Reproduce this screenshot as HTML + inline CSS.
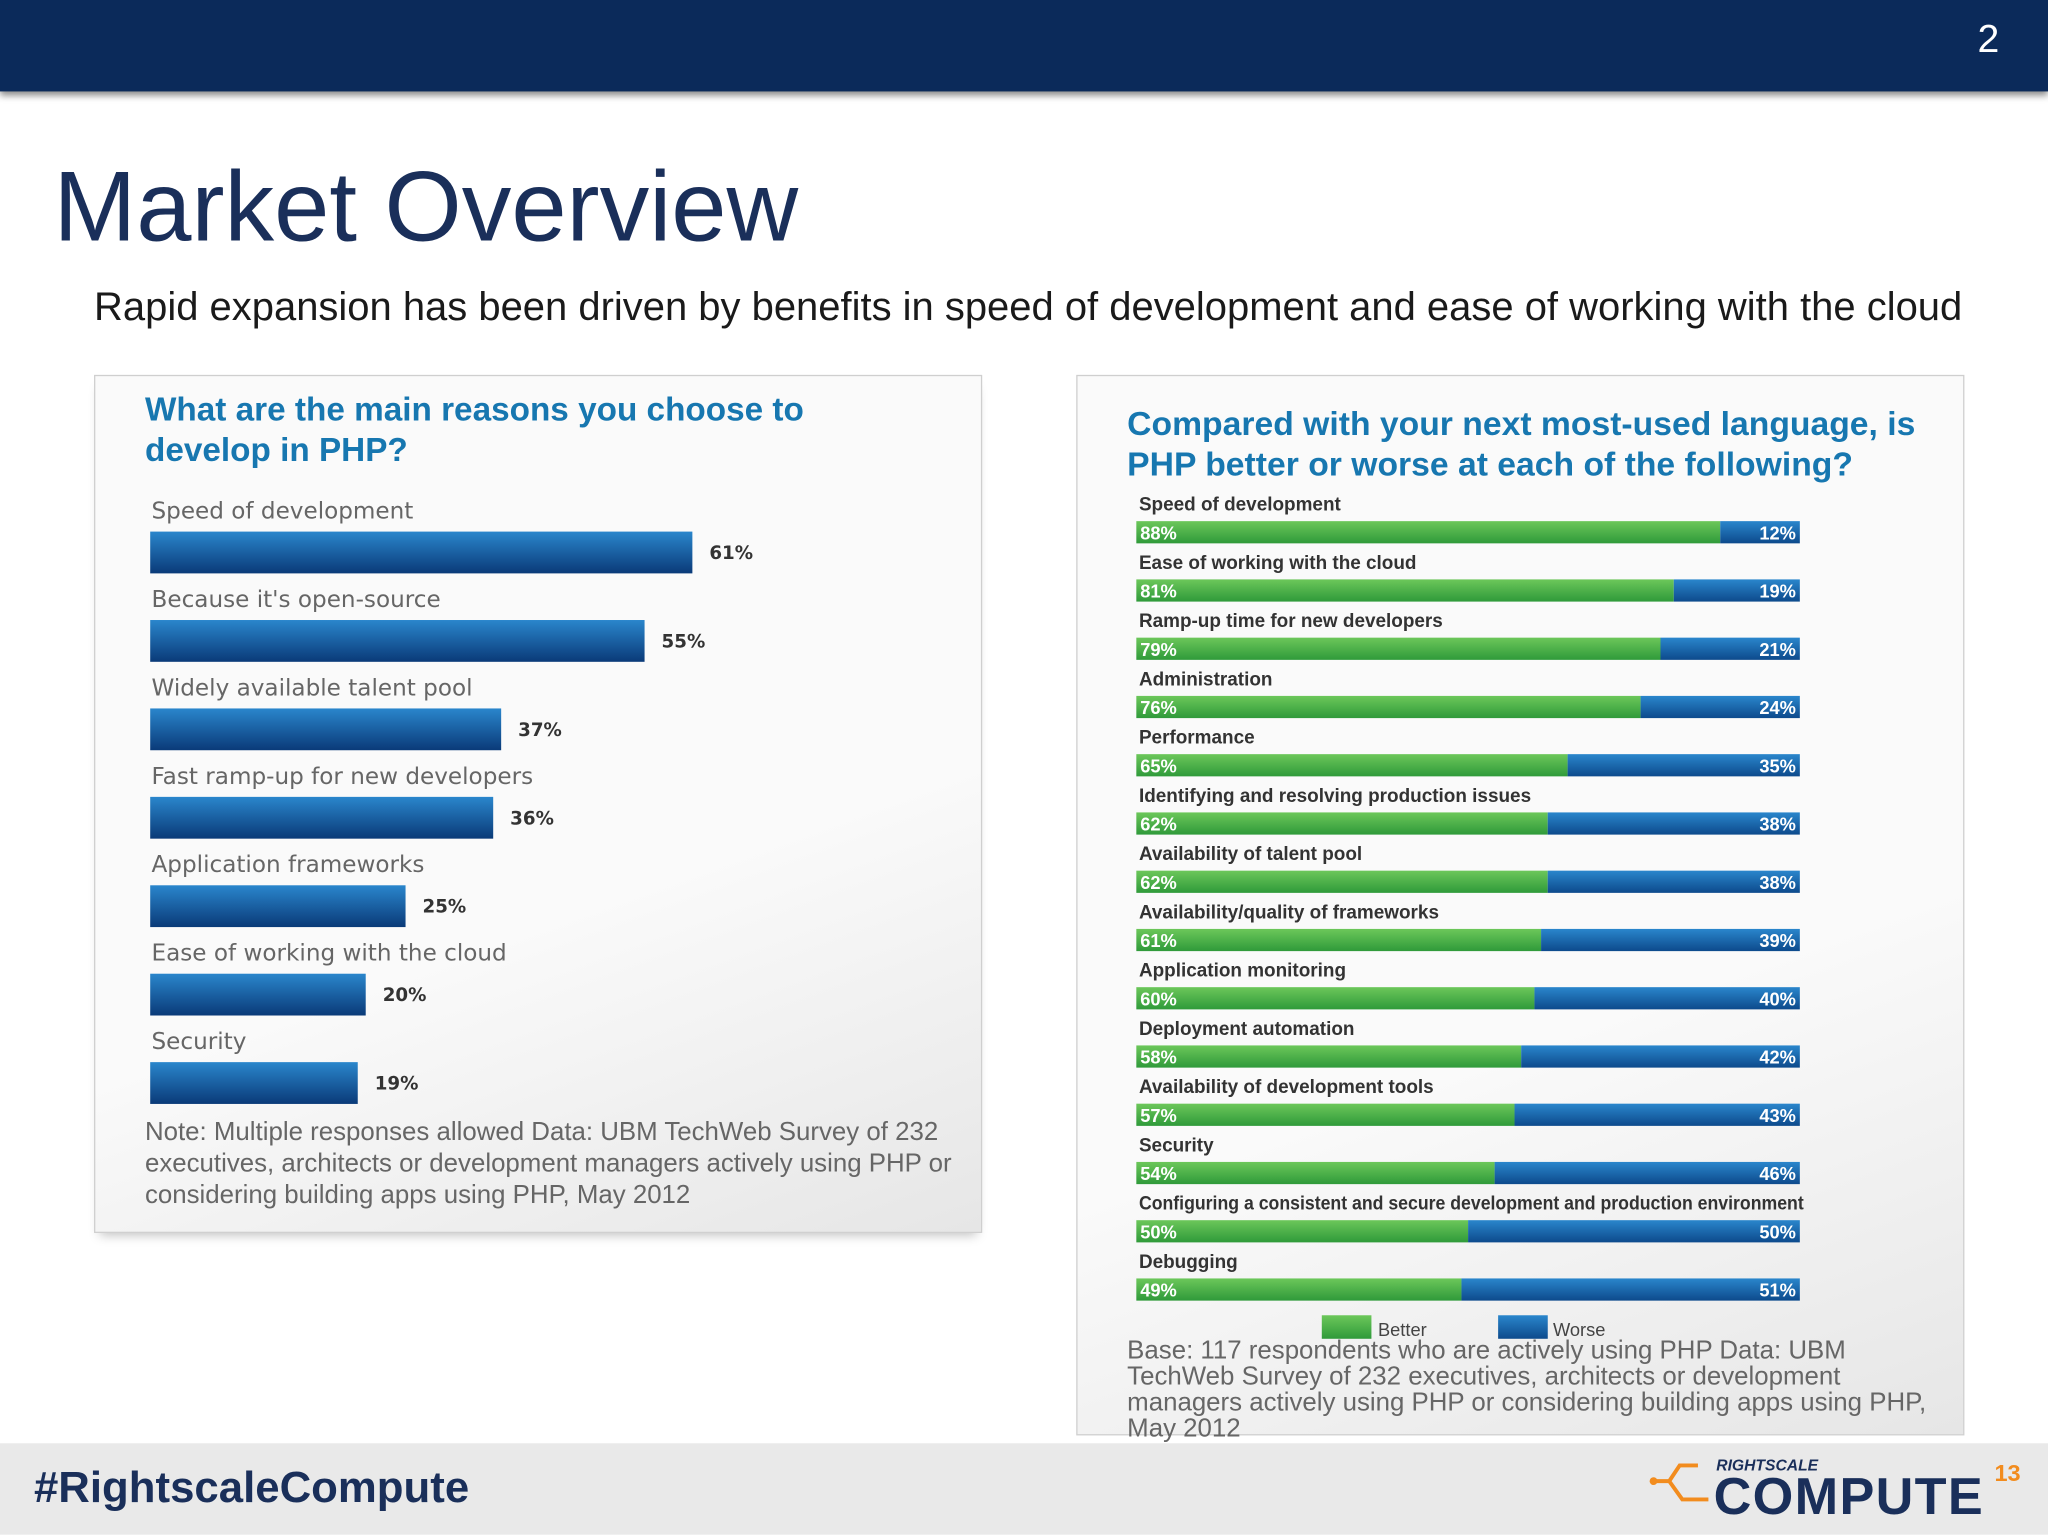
<!DOCTYPE html>
<html><head><meta charset="utf-8"><style>
html,body{margin:0;padding:0;width:2048px;height:1535px;overflow:hidden;background:#fff}
#s{position:absolute;left:0;top:0;width:1568px;height:1175px;transform:scale(1.306122);transform-origin:0 0;font-family:"Liberation Sans",sans-serif;background:#fff}
.a{position:absolute;white-space:nowrap}
</style></head><body><div id="s">
<div class="a" style="left:0;top:0;width:1568px;height:70px;background:#0b2a5a;box-shadow:0 3px 5px rgba(0,0,0,.45)"></div>
<div class="a" style="left:1514px;top:14px;font-size:30px;color:#fff">2</div>
<div class="a" style="left:41px;top:115px;font-size:76px;color:#1a2f5a">Market Overview</div>
<div class="a" style="left:72px;top:218px;font-size:30.6px;color:#1a1a1a">Rapid expansion has been driven by benefits in speed of development and ease of working with the cloud</div>

<div class="a" style="left:72px;top:287px;width:678px;height:655px;background:linear-gradient(160deg,#fafafa 60%,#e6e6e6);border:1px solid #cfcfcf;box-shadow:0 6px 8px -4px rgba(0,0,0,.25)"></div>
<div class="a" style="left:111px;top:299px;font-size:25.5px;font-weight:bold;color:#1777b0;line-height:31px">What are the main reasons you choose to<br>develop in PHP?</div>
<svg class="a" id="lc" style="left:0;top:0" width="760" height="860"></svg>
<div class="a" style="left:111px;top:855px;font-size:19.8px;color:#666;line-height:24px">Note: Multiple responses allowed Data: UBM TechWeb Survey of 232<br>executives, architects or development managers actively using PHP or<br>considering building apps using PHP, May 2012</div>

<div class="a" style="left:824px;top:287px;width:678px;height:810px;background:linear-gradient(160deg,#fafafa 60%,#e6e6e6);border:1px solid #cfcfcf"></div>
<div class="a" style="left:863px;top:310px;font-size:25.8px;font-weight:bold;color:#1777b0;line-height:31px">Compared with your next most-used language, is<br>PHP better or worse at each of the following?</div>
<svg class="a" id="rc" style="left:0;top:0" width="1568" height="1040"></svg>
<div class="a" style="left:863px;top:1024px;font-size:19.8px;color:#666;line-height:20px">Base: 117 respondents who are actively using PHP Data: UBM<br>TechWeb Survey of 232 executives, architects or development<br>managers actively using PHP or considering building apps using PHP,<br>May 2012</div>

<div class="a" style="left:0;top:1105px;width:1568px;height:70px;background:#e9e9e9"></div>
<div class="a" style="left:26px;top:1121px;font-size:33.5px;font-weight:bold;color:#1a2f5a">#RightscaleCompute</div>
<div class="a" style="left:1314px;top:1115px;font-size:12px;font-weight:bold;color:#1a2f5a;font-style:italic">RIGHTSCALE</div>
<div class="a" style="left:1312px;top:1124px;font-size:40px;font-weight:bold;color:#1a2f5a;letter-spacing:1px">COMPUTE</div>
<div class="a" style="left:1527px;top:1118px;font-size:18px;font-weight:bold;color:#f28c1e">13</div>
<svg class="a" style="left:1262px;top:1116px" width="50" height="40"><path d="M2 18 H16 L24 6 H38 M16 18 L26 32 H46" stroke="#f28c1e" stroke-width="3" fill="none"/><circle cx="4" cy="18" r="3" fill="#f28c1e"/></svg>

<script>
const leftCats=["Speed of development","Because it's open-source","Widely available talent pool","Fast ramp-up for new developers","Application frameworks","Ease of working with the cloud","Security"];
const leftVals=[61,55,37,36,25,20,19];
const rightCats=["Speed of development","Ease of working with the cloud","Ramp-up time for new developers","Administration","Performance","Identifying and resolving production issues","Availability of talent pool","Availability/quality of frameworks","Application monitoring","Deployment automation","Availability of development tools","Security","Configuring a consistent and secure development and production environment","Debugging"];
const betterVals=[88,81,79,76,65,62,62,61,60,58,57,54,50,49];
const worseVals=[12,19,21,24,35,38,38,39,40,42,43,46,50,51];
const NS="http://www.w3.org/2000/svg";
function mk(svg,t,at,txt){const e=document.createElementNS(NS,t);for(const k in at)e.setAttribute(k,at[k]);if(txt!==undefined)e.textContent=txt;svg.appendChild(e);return e;}
const lc=document.getElementById('lc'),rc=document.getElementById('rc');
const defs=mk(lc,'defs',{});
defs.innerHTML='<linearGradient id="bl" x1="0" y1="0" x2="0" y2="1"><stop offset="0" stop-color="#2a86cc"/><stop offset="1" stop-color="#0a3a78"/></linearGradient>';
const rdefs=mk(rc,'defs',{});
rdefs.innerHTML='<linearGradient id="gr" x1="0" y1="0" x2="0" y2="1"><stop offset="0" stop-color="#6cc75a"/><stop offset="1" stop-color="#2f9a3a"/></linearGradient><linearGradient id="bb" x1="0" y1="0" x2="0" y2="1"><stop offset="0" stop-color="#2a86cc"/><stop offset="1" stop-color="#0d4a8c"/></linearGradient>';
const lx=v=>158+6.1*v, ly=i=>407+i*67.7;
leftCats.forEach((c,i)=>{
 const t=mk(lc,'text',{x:116,y:ly(i)-10,'font-size':17.7,fill:'#666','font-family':'DejaVu Sans, sans-serif'},c);
 
 
 const r=mk(lc,'rect',{x:115,y:ly(i),width:lx(leftVals[i])-115,height:32,fill:'url(#bl)'});
 
 
 const v=mk(lc,'text',{x:lx(leftVals[i])+13,y:ly(i)+21,'font-size':14,'font-weight':'bold',fill:'#333','font-family':'DejaVu Sans, sans-serif'},leftVals[i]+'%');
 
 
});
const rx0=870,rw=508,rx=v=>rx0+rw*v/100,ry=i=>399+i*44.6;
rightCats.forEach((c,i)=>{
 const t=mk(rc,'text',{x:872,y:ry(i)-8,'font-size':14.5,'font-weight':'bold',fill:'#333','font-family':'Liberation Sans, sans-serif'},c);
 if(c.length>50){t.setAttribute('textLength','509');t.setAttribute('lengthAdjust','spacingAndGlyphs');}
 
 
 const g=mk(rc,'rect',{x:rx0,y:ry(i),width:rx(betterVals[i])-rx0,height:17,fill:'url(#gr)'});
 
 
 const b=mk(rc,'rect',{x:rx(betterVals[i]),y:ry(i),width:rx(betterVals[i]+worseVals[i])-rx(betterVals[i]),height:17,fill:'url(#bb)'});
 
 
 const l1=mk(rc,'text',{x:873,y:ry(i)+14,'font-size':14,'font-weight':'bold',fill:'#fff','font-family':'Liberation Sans, sans-serif'},betterVals[i]+'%');
 
 
 const l2=mk(rc,'text',{x:1375,y:ry(i)+14,'font-size':14,'font-weight':'bold',fill:'#fff','text-anchor':'end','font-family':'Liberation Sans, sans-serif'},worseVals[i]+'%');
 
 
});
const lg1=mk(rc,'rect',{x:1012,y:1007,width:38,height:18,fill:'url(#gr)'});


const lt1=mk(rc,'text',{x:1055,y:1023,'font-size':14,fill:'#444','font-family':'Liberation Sans, sans-serif'},'Better');


const lg2=mk(rc,'rect',{x:1147,y:1007,width:38,height:18,fill:'url(#bb)'});


const lt2=mk(rc,'text',{x:1189,y:1023,'font-size':14,fill:'#444','font-family':'Liberation Sans, sans-serif'},'Worse');


</script>
</div></body></html>
